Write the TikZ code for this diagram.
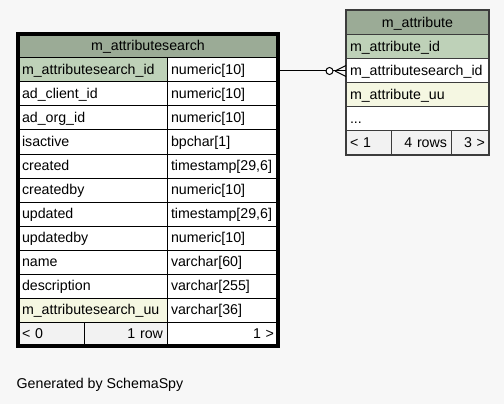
\documentclass[tikz,border=0pt]{standalone}
\usepackage{fontspec}
\setmainfont{Liberation Sans}
\usetikzlibrary{calc}
\definecolor{bgc}{RGB}{247,247,247}
\definecolor{hdrc}{RGB}{155,171,150}
\definecolor{pkc}{RGB}{190,209,184}
\definecolor{uuc}{RGB}{245,247,226}
\definecolor{ftc}{RGB}{242,242,242}
\definecolor{tbc}{RGB}{60,60,60}
\begin{document}
\begin{tikzpicture}[x=1pt,y=-1pt,
  font=\fontsize{14.2}{16}\selectfont,
  cell/.style={draw=black, line width=1pt, anchor=north west, minimum height=24pt,
    inner xsep=4pt, inner ysep=0pt, outer sep=0pt, align=left, fill=white,
    text height=12.6pt, text depth=3.4pt},
  rcell/.style={cell, draw=tbc},
  hdr/.style={fill=hdrc, align=center},
  fl/.style={align=left},
  fr/.style={align=right}]
\fill[bgc] (0,0) rectangle (504,404);
\useasboundingbox (0,0) rectangle (504,404);

% ---------- left table: m_attributesearch ----------
\node[cell, hdr, minimum width=260pt, text width=252pt] (lh) at (18,34) {m\_attributesearch};
\foreach \n/\t/\f [count=\i from 0] in {
  m\_attributesearch\_id/numeric[10]/pkc,
  ad\_client\_id/numeric[10]/white,
  ad\_org\_id/numeric[10]/white,
  isactive/bpchar[1]/white,
  created/{timestamp[29,6]}/white,
  createdby/numeric[10]/white,
  updated/{timestamp[29,6]}/white,
  updatedby/numeric[10]/white,
  name/varchar[60]/white,
  description/varchar[255]/white,
  m\_attributesearch\_uu/varchar[36]/uuc} {
  \node[cell, fill=\f, minimum width=149pt, text width=141pt] (ln\i) at (18,58+24*\i) {\n};
  \node[cell, minimum width=111pt, text width=103pt] (lt\i) at (167,58+24*\i) {\t};
}
\node[cell, fill=ftc, minimum width=66pt, text width=58pt, fl] (lf1) at (18,322) {< 0};
\node[cell, fill=ftc, minimum width=83pt, text width=75pt, fr] (lf2) at (84,322) {1 row};
\node[cell, minimum width=111pt, text width=103pt, fr] (lf3) at (167,322) {1 >};
\draw[line width=3.5pt] (lh.north west) rectangle (lf3.south east);

% ---------- right table: m_attribute ----------
\node[rcell, hdr, minimum width=143pt, minimum height=25pt, text width=135pt] (rh) at (346,10) {m\_attribute};
\node[rcell, fill=pkc, minimum width=143pt, text width=135pt] (r0) at (346,35) {m\_attribute\_id};
\node[rcell, minimum width=143pt, text width=135pt] (r1) at (346,59) {m\_attributesearch\_id};
\node[rcell, fill=uuc, minimum width=143pt, text width=135pt] (r2) at (346,83) {m\_attribute\_uu};
\node[rcell, minimum width=143pt, text width=135pt] (r3) at (346,107) {...};
\node[rcell, fill=ftc, minimum width=45pt, text width=37pt, fl] (rf1) at (346,131) {< 1};
\node[rcell, fill=ftc, minimum width=60pt, text width=52pt, fr] (rf2) at (391,131) {4 rows};
\node[rcell, fill=ftc, minimum width=38pt, text width=30pt, fr] (rf3) at (451,131) {3 >};
\draw[tbc, line width=1.2pt] (rh.north west) rectangle (rf3.south east);

% ---------- connector ----------
\coordinate (cc) at ($(r1.west)+(-16.5,0)$);
\draw[line width=1pt] (lt0.east |- r1.west) -- ($(cc)+(-3.5,0)$);
\draw[line width=1pt, fill=white] (cc) circle (3.5pt);
\draw[line width=1pt] ($(cc)+(3.5,0)$) -- (r1.west);
\draw[line width=1pt] ($(r1.west)+(-11,0)$) -- ($(r1.west)+(0,-5.5)$);
\draw[line width=1pt] ($(r1.west)+(-11,0)$) -- ($(r1.west)+(0,5.5)$);

% ---------- footer text ----------
\node[anchor=base west, inner sep=0pt] (gen) at (16.5,388) {Generated by SchemaSpy};
\end{tikzpicture}
\end{document}
